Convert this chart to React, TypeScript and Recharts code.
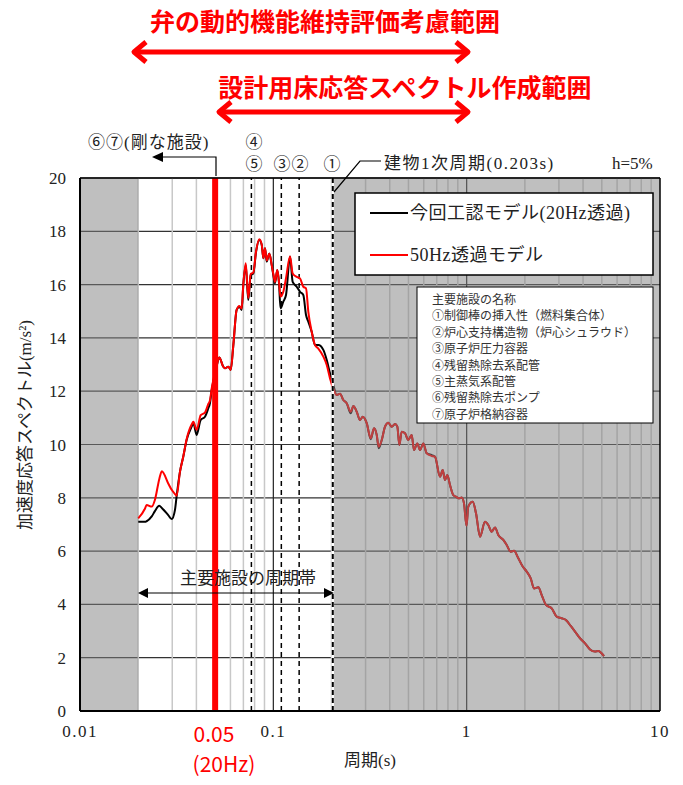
import React from "react";
import { LineChart, Line, XAxis, YAxis, CartesianGrid, ReferenceLine, ReferenceArea } from "recharts";

// 周期 (s)
const periods = [
  0.02, 0.0217, 0.0221, 0.0235, 0.0244, 0.0257, 0.0265, 0.0286, 0.0298, 0.031,
  0.0316, 0.0329, 0.0342, 0.0356, 0.0378, 0.0386, 0.0401, 0.0421, 0.0443, 0.0461,
  0.047, 0.048, 0.0505, 0.0525, 0.0551, 0.0562, 0.0585, 0.0602, 0.0621, 0.0646,
  0.0667, 0.0686, 0.0699, 0.072, 0.0742, 0.0764, 0.0788, 0.0814, 0.0846, 0.0871,
  0.0888, 0.0906, 0.0924, 0.0953, 0.0981, 0.1, 0.102, 0.1048, 0.107, 0.1089,
  0.1126, 0.1163, 0.122, 0.1259, 0.1321, 0.1374, 0.1429, 0.1476, 0.1517, 0.1579,
  0.1643, 0.1709, 0.1814, 0.1889, 0.1964, 0.2043, 0.2128, 0.2213, 0.2301, 0.2396,
  0.2513, 0.2593, 0.27, 0.2808, 0.29, 0.3041, 0.319, 0.3318, 0.3426, 0.3508,
  0.3637, 0.3782, 0.3933, 0.4097, 0.426, 0.4379, 0.4485, 0.4613, 0.4798, 0.499,
  0.5196, 0.534, 0.5554, 0.5735, 0.5967, 0.6214, 0.6596, 0.6859, 0.728, 0.7516,
  0.7725, 0.794, 0.8199, 0.8527, 0.8806, 0.9159, 0.9426, 0.9688, 0.998, 1.0196,
  1.0745, 1.1177, 1.1722, 1.2436, 1.2935, 1.347, 1.4016, 1.4576, 1.547, 1.611,
  1.6896, 1.7575, 1.85, 1.9496, 2.0446, 2.1443, 2.2301, 2.3476, 2.4446, 2.5728,
  2.7542, 2.9232, 3.1025, 3.2653, 3.4531, 3.635, 3.8585, 4.0943, 4.3452, 4.6117,
  4.7973, 4.9955, 5.1336,
];

// 今回工認モデル(20Hz透過)
const model20Hz = [
  7.1, 7.1, 7.12, 7.3, 7.5, 7.7, 7.62, 7.35, 7.2, 7.55,
  8.05, 8.98, 9.54, 10.17, 10.67, 10.8, 10.36, 10.92, 11.04, 11.36,
  11.55, 12.04, 12.8, 13.26, 12.92, 12.86, 12.92, 12.8, 13.73, 15.05,
  15.17, 15.05, 15.98, 16.73, 15.42, 16.36, 16.42, 17.23, 17.67, 17.49,
  16.99, 17.36, 16.86, 17.17, 16.73, 16.36, 16.05, 16.55, 16.05, 15.11,
  15.36, 15.61, 17.05, 16.1, 15.92, 15.73, 15.61, 14.86, 14.61, 14.23,
  13.73, 13.73, 13.55, 13.17, 12.67, 12.23, 11.86, 11.9, 11.67, 11.55,
  11.17, 11.44, 11.23, 10.92, 11.04, 10.8, 10.2, 10.61, 10.36, 9.86,
  10.17, 10.67, 10.82, 10.67, 10.77, 10.67, 9.98, 10.48, 10.42, 10.17,
  10.36, 9.79, 10.04, 9.79, 10.04, 9.67, 9.6, 9.54, 8.79, 9.04,
  8.67, 8.86, 8.48, 8.1, 8.04, 7.98, 8.01, 7.79, 6.95, 7.67,
  7.85, 7.42, 6.54, 7.1, 6.98, 6.73, 6.89, 6.6, 6.42, 6.23,
  5.98, 6.01, 5.73, 5.42, 5.23, 4.98, 4.6, 4.64, 4.35, 3.98,
  3.85, 3.54, 3.48, 3.41, 3.19, 2.98, 2.73, 2.54, 2.31, 2.23,
  2.25, 2.16, 2.06,
];

// 50Hz透過モデル
const model50Hz = [
  7.23, 7.6, 7.73, 7.67, 7.92, 8.7, 9.0, 8.54, 8.3, 8.14,
  8.08, 8.98, 9.54, 10.2, 10.75, 10.85, 10.55, 11.1, 11.2, 11.52,
  11.65, 12.1, 12.85, 13.26, 12.92, 12.86, 12.92, 12.8, 13.73, 15.05,
  15.2, 15.1, 15.98, 16.8, 15.5, 16.4, 16.45, 17.25, 17.7, 17.5,
  17.0, 17.36, 16.9, 17.17, 16.73, 16.4, 16.1, 16.55, 16.1, 15.55,
  15.73, 16.24, 17.05, 16.42, 16.29, 16.23, 15.92, 15.86, 14.98, 14.23,
  13.73, 13.6, 13.3, 12.98, 12.48, 12.1, 11.86, 11.9, 11.67, 11.55,
  11.23, 11.44, 11.23, 10.92, 11.04, 10.8, 10.23, 10.61, 10.36, 9.92,
  10.17, 10.67, 10.82, 10.67, 10.77, 10.67, 9.98, 10.48, 10.42, 10.17,
  10.36, 9.79, 10.04, 9.79, 10.04, 9.67, 9.57, 9.54, 8.79, 9.04,
  8.67, 8.86, 8.48, 8.1, 8.04, 7.98, 8.01, 7.79, 6.95, 7.67,
  7.85, 7.42, 6.54, 7.1, 6.98, 6.73, 6.89, 6.6, 6.42, 6.23,
  5.98, 6.01, 5.73, 5.42, 5.23, 4.98, 4.6, 4.64, 4.35, 3.98,
  3.85, 3.54, 3.48, 3.41, 3.19, 2.98, 2.73, 2.54, 2.31, 2.23,
  2.25, 2.16, 2.06,
];

const xTicks = [0.01, 0.1, 1, 10];
const yTicks = [0, 2, 4, 6, 8, 10, 12, 14, 16, 18, 20];
const minorGrid = [
  0.02, 0.03, 0.04, 0.05, 0.06, 0.07, 0.08, 0.09,
  0.2, 0.3, 0.4, 0.5, 0.6, 0.7, 0.8, 0.9,
  2, 3, 4, 5, 6, 7, 8, 9,
];
const majorGrid = [0.1, 1];
const facilityPeriods = [0.077, 0.11, 0.136]; // ⑤, ③, ②
const buildingPeriod = 0.203; // ①
const valvePeriod = 0.05;
const shaded = [
  [0.01, 0.02],
  [0.203, 10],
];
const facilityNames = [
  "主要施設の名称",
  "①制御棒の挿入性（燃料集合体）",
  "②炉心支持構造物（炉心シュラウド）",
  "③原子炉圧力容器",
  "④残留熱除去系配管",
  "⑤主蒸気系配管",
  "⑥残留熱除去ポンプ",
  "⑦原子炉格納容器",
];

const data = periods.map((t, i) => ({ t, a: model20Hz[i], b: model50Hz[i] }));

const serif = "'Liberation Serif', 'Noto Sans CJK JP', serif";
const sans = "'Noto Sans CJK JP', 'Noto Sans', sans-serif";

export default function App() {
  return (
    <div style={{ position: "absolute", left: 0, top: 0, width: 683, height: 785, background: "#fff" }}>
      <LineChart
        width={683}
        height={785}
        data={data}
        margin={{ top: 178, right: 23, bottom: 44, left: 40 }}
      >
        <CartesianGrid vertical={false} stroke="#333" strokeWidth={1.2} />
        {minorGrid.map((v) => (
          <ReferenceLine key={"m" + v} x={v} stroke="#c8c8c8" strokeWidth={1.5} zIndex={50} />
        ))}
        {majorGrid.map((v) => (
          <ReferenceLine key={"M" + v} x={v} stroke="#222" strokeWidth={1.2} zIndex={60} />
        ))}
        {facilityPeriods.map((v) => (
          <ReferenceLine key={"f" + v} x={v} stroke="#000" strokeWidth={1.5} strokeDasharray="5 4" zIndex={350} />
        ))}
        <XAxis
          type="number"
          dataKey="t"
          scale="log"
          domain={[0.01, 10]}
          ticks={xTicks}
          allowDataOverflow
          height={30}
          tickLine={false}
          tickSize={6}
          tickMargin={8}
          axisLine={{ stroke: "#000", strokeWidth: 2 }}
          tick={{ fill: "#222", fontSize: 17, fontFamily: serif, letterSpacing: 1.5 }}
          tickFormatter={(v) => String(v)}
        />
        <YAxis
          type="number"
          domain={[0, 20]}
          ticks={yTicks}
          width={40}
          tickLine={false}
          tickSize={6}
          tickMargin={8}
          axisLine={{ stroke: "#000", strokeWidth: 2 }}
          tick={{ fill: "#222", fontSize: 17, fontFamily: serif }}
        />
        <Line type="monotone" dataKey="a" stroke="#000" strokeWidth={2} dot={false} isAnimationActive={false} zIndex={400} />
        <Line type="monotone" dataKey="b" stroke="#ff0000" strokeWidth={2} dot={false} isAnimationActive={false} zIndex={410} />
        {shaded.map(([x1, x2]) => (
          <ReferenceArea
            key={"s" + x1}
            x1={x1}
            x2={x2}
            y1={0}
            y2={20}
            fill="#808080"
            fillOpacity={0.5}
            stroke="none"
            zIndex={450}
          />
        ))}
        <ReferenceLine x={buildingPeriod} stroke="#fff" strokeWidth={2.5} zIndex={460} />
        <ReferenceLine x={buildingPeriod} stroke="#000" strokeWidth={2} strokeDasharray="5 3" zIndex={461} />
        <ReferenceLine x={valvePeriod} stroke="#ff0000" strokeWidth={6} zIndex={470} />
        <ReferenceLine y={20} stroke="#000" strokeWidth={1.5} zIndex={480} />
        <ReferenceLine x={10} stroke="#000" strokeWidth={1.5} zIndex={480} />
      </LineChart>

      <svg
        width={683}
        height={785}
        style={{ position: "absolute", left: 0, top: 0, pointerEvents: "none" }}
      >
        {/* top red ranges */}
        <text x={325} y={20} textAnchor="middle" dominantBaseline="central" fill="#ff0000" fontSize={25} fontWeight={700} fontFamily={sans}>
          弁の動的機能維持評価考慮範囲
        </text>
        <line x1={135} y1={52} x2={467} y2={52} stroke="#ff0000" strokeWidth={5} />
        <polyline points="146,42 134,52 146,62" fill="none" stroke="#ff0000" strokeWidth={5} strokeLinejoin="round" />
        <polyline points="456,42 468,52 456,62" fill="none" stroke="#ff0000" strokeWidth={5} strokeLinejoin="round" />
        <text x={405} y={86} textAnchor="middle" dominantBaseline="central" fill="#ff0000" fontSize={25} fontWeight={700} fontFamily={sans}>
          設計用床応答スペクトル作成範囲
        </text>
        <line x1={220} y1={112} x2={467} y2={112} stroke="#ff0000" strokeWidth={5} />
        <polyline points="231,102 219,112 231,122" fill="none" stroke="#ff0000" strokeWidth={5} strokeLinejoin="round" />
        <polyline points="456,102 468,112 456,122" fill="none" stroke="#ff0000" strokeWidth={5} strokeLinejoin="round" />

        {/* facility markers */}
        <g fontFamily={serif} fontSize={17} fill="#222" dominantBaseline="central">
          <text x={88} y={142} letterSpacing={1}>⑥⑦(剛な施設)</text>
          <text x={254} y={142} textAnchor="middle">④</text>
          <text x={254} y={164} textAnchor="middle">⑤</text>
          <text x={282} y={164} textAnchor="middle">③</text>
          <text x={300} y={164} textAnchor="middle">②</text>
          <text x={332} y={164} textAnchor="middle">①</text>
          <text x={384} y={163} letterSpacing={1.5}>建物1次周期(0.203s)</text>
          <text x={612} y={163}>h=5%</text>
        </g>
        <polyline points="216,176 216,157 162,157" fill="none" stroke="#000" strokeWidth={1.2} />
        <polygon points="152,157 163,152 163,162" fill="#000" />
        <polyline points="334,192 360,161 381,161" fill="none" stroke="#000" strokeWidth={1.2} />

        {/* legend */}
        <rect x={355} y={193} width={298} height={82} fill="#fff" stroke="#000" strokeWidth={1.5} />
        <line x1={370} y1={213} x2={408} y2={213} stroke="#000" strokeWidth={2} />
        <line x1={370} y1={255} x2={408} y2={255} stroke="#ff0000" strokeWidth={2} />
        <g fontFamily={serif} fontSize={18} fill="#222" dominantBaseline="central" letterSpacing={0.5}>
          <text x={410} y={213}>今回工認モデル(20Hz透過)</text>
          <text x={410} y={255}>50Hz透過モデル</text>
        </g>

        <rect x={417} y={287} width={236} height={136} fill="#fff" stroke="#000" strokeWidth={1} />
        <g fontFamily={serif} fontSize={12} fill="#333" dominantBaseline="central">
          {facilityNames.map((n, i) => (
            <text key={n} x={432} y={300 + i * 16.4}>
              {n}
            </text>
          ))}
        </g>

        {/* period band */}
        <text x={248} y={578} textAnchor="middle" dominantBaseline="central" fontFamily={serif} fontSize={17} fill="#222">
          主要施設の周期帯
        </text>
        <line x1={146} y1={593} x2={326} y2={593} stroke="#000" strokeWidth={1.2} />
        <polygon points="138,593 148,588 148,598" fill="#000" />
        <polygon points="334,593 324,588 324,598" fill="#000" />

        {/* axis titles */}
        <text x={370} y={760} textAnchor="middle" dominantBaseline="central" fontFamily={serif} fontSize={17} fill="#222">
          周期(s)
        </text>
        <text
          x={25}
          y={425}
          textAnchor="middle"
          dominantBaseline="central"
          fontFamily={serif}
          fontSize={17}
          fill="#222"
          transform="rotate(-90 25 425)"
        >
          加速度応答スペクトル(m/s²)
        </text>
        <text x={214} y={733} textAnchor="middle" dominantBaseline="central" fontFamily={sans} fontSize={21} fill="#ff0000">
          0.05
        </text>
        <text x={224} y={763} textAnchor="middle" dominantBaseline="central" fontFamily={sans} fontSize={21} fill="#ff0000">
          (20Hz)
        </text>
      </svg>
    </div>
  );
}
